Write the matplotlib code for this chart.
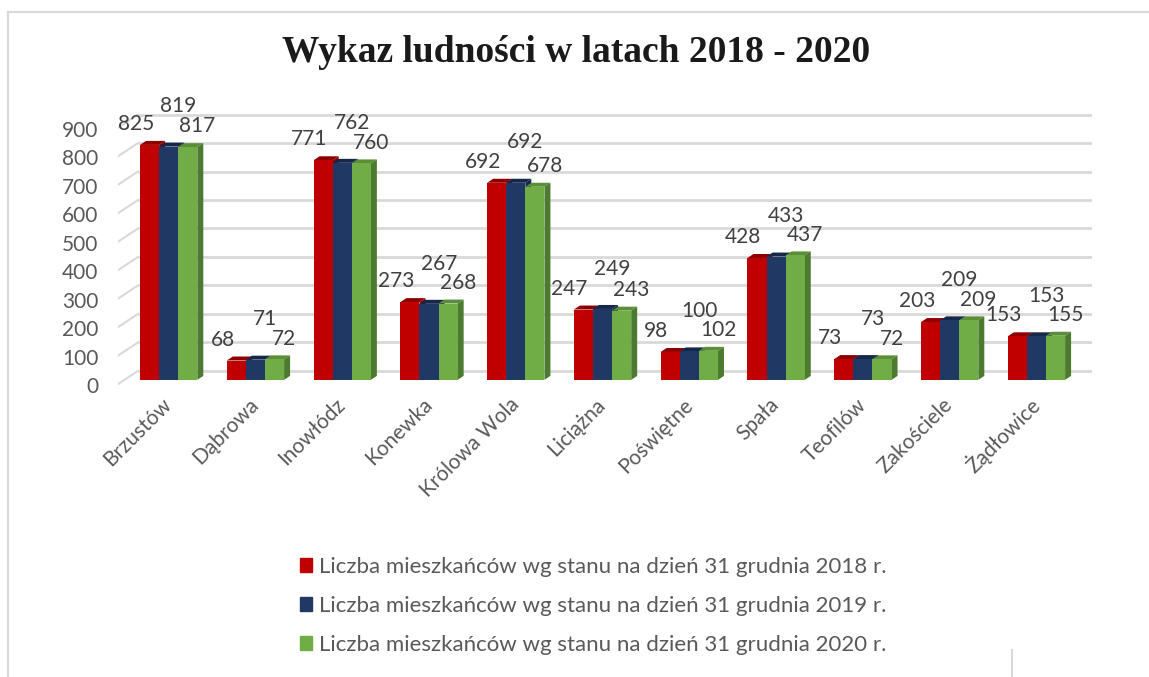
import numpy as np
import matplotlib
matplotlib.use('Agg')
import matplotlib.pyplot as plt
from matplotlib.patches import Polygon, Patch
from matplotlib.lines import Line2D

categories = ['Brzustów', 'Dąbrowa', 'Inowłódz', 'Konewka', 'Królowa Wola', 'Liciążna',
              'Poświętne', 'Spała', 'Teofilów', 'Zakościele', 'Żądłowice']
y2018 = [825, 68, 771, 273, 692, 247, 98, 428, 73, 203, 153]
y2019 = [819, 71, 762, 267, 692, 249, 100, 433, 73, 209, 153]
y2020 = [817, 72, 760, 268, 678, 243, 102, 437, 72, 209, 155]
series_names = ['Liczba mieszkańców wg stanu na dzień 31 grudnia 2018 r.',
                'Liczba mieszkańców wg stanu na dzień 31 grudnia 2019 r.',
                'Liczba mieszkańców wg stanu na dzień 31 grudnia 2020 r.']
yticks = [0, 100, 200, 300, 400, 500, 600, 700, 800, 900]

front = ['#C00000', '#203864', '#70AD47']
top = ['#8E0000', '#16284A', '#5A8F38']
side = ['#8E0000', '#16284A', '#4C7A2E']
label_off = [(-10, 15), (7, 29), (7, 15)]

plt.rcParams['font.family'] = ['Lato', 'DejaVu Sans']

W, H = 1149, 677
fig = plt.figure(figsize=(W / 100, H / 100), dpi=100)
ax = fig.add_axes([118 / W, 1 - 385 / H, (1092 - 118) / W, (385 - 110) / H])
ax.set_xlim(-0.584, 10.64)
ax.set_ylim(-15, 947.5)
for s in ax.spines.values():
    s.set_visible(False)

# depth offsets for the fake 3D look
dx, dy = 0.069, 14
back = 31.5
x = np.arange(len(categories))
bw = 0.22

# gridlines (drawn at the back) with slanted stubs at the left
for v in yticks:
    ax.plot([-0.354, 10.64], [v + back, v + back], color='#D9D9D9', lw=2, zorder=0,
            solid_capstyle='butt')
    ax.plot([-0.584, -0.354], [v - 15, v + back], color='#D9D9D9', lw=1.5, zorder=0)

for j, vals in enumerate([y2018, y2019, y2020]):
    bars = ax.bar(x + (j - 1) * bw, vals, bw, color=front[j], zorder=3,
                  label=series_names[j])
    for b in bars:
        x0, x1, h = b.get_x(), b.get_x() + b.get_width(), b.get_height()
        ax.add_patch(Polygon([(x0, h), (x1, h), (x1 + dx, h + dy), (x0 + dx, h + dy)],
                             closed=True, color=top[j], zorder=2, lw=0))
        ax.add_patch(Polygon([(x1, 0), (x1, h), (x1 + dx, h + dy), (x1 + dx, dy)],
                             closed=True, color=side[j], zorder=2, lw=0))
        ax.annotate(str(int(h)), (b.get_x() + b.get_width() / 2, h),
                    xytext=label_off[j], textcoords='offset points',
                    ha='center', va='center', fontsize=15, color='#404040', zorder=5)

ax.set_yticks([v - 18 for v in yticks], [str(v) for v in yticks])
ax.set_xticks(x, categories)
ax.tick_params(axis='both', length=0, colors='#595959', labelsize=15)
ax.tick_params(axis='y', pad=14)
ax.tick_params(axis='x', pad=12)
for t in ax.get_xticklabels():
    t.set_rotation(45)
    t.set_ha('right')
    t.set_va('center')
    t.set_rotation_mode('anchor')

fig.text(0.5015, 1 - 52 / H, 'Wykaz ludności w latach 2018 - 2020', ha='center', va='center',
         family='Liberation Serif', weight='bold', fontsize=27, color='#1A1A1A')

handles = [Patch(color=c) for c in front]
fig.legend(handles, series_names, loc='upper left', bbox_to_anchor=(280 / W, 1 - 537 / H),
           frameon=False, fontsize=16, handlelength=0.55, handleheight=0.55,
           handletextpad=0.3, labelspacing=0.85, labelcolor='#595959')

# chart frame
fig.add_artist(Line2D([8 / W, 1], [1 - 12 / H, 1 - 12 / H], color='#D9D9D9', lw=1.5))
fig.add_artist(Line2D([8 / W, 8 / W], [0, 1 - 12 / H], color='#D9D9D9', lw=1.5))
fig.add_artist(Line2D([1012 / W, 1012 / W], [0, 1 - 650 / H], color='#D9D9D9', lw=1.5))

fig.savefig('out.png', dpi=100)
